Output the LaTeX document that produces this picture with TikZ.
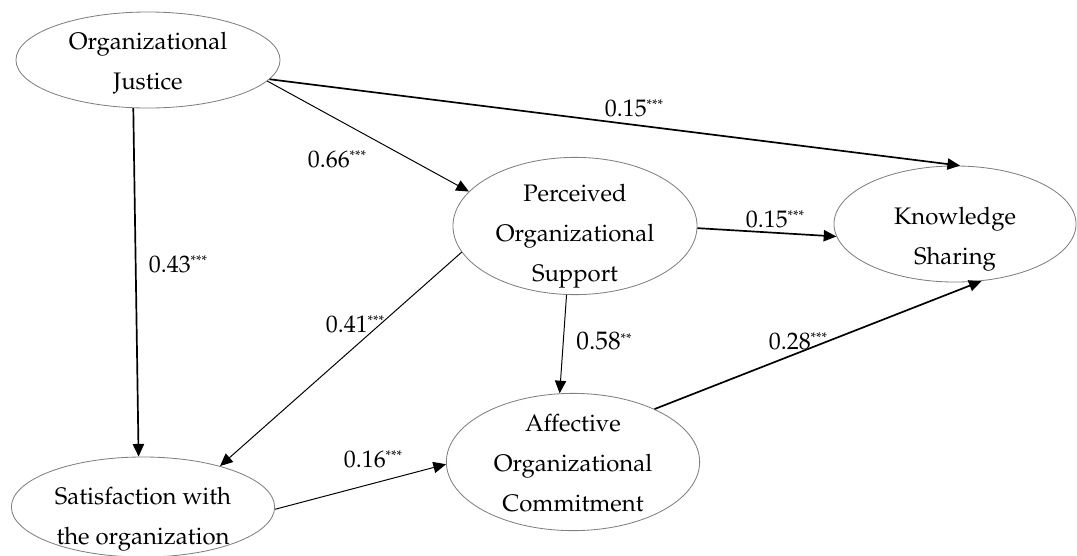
\documentclass[tikz,border=0pt]{standalone}
\usepackage[T1]{fontenc}
\usepackage{mathpazo}
\usetikzlibrary{
	arrows.meta,
	shapes.geometric
}
\tikzset{
  % construct
	cstellipse/.style ={ellipse,draw=black!50,line width=0.6pt,inner sep=0pt},
	csttext/.style    ={align=center,font=\fontsize{17}{28.4}\selectfont},
  % arrow
	cstra/.style      ={-{Triangle[length=9pt,width=8pt]},line width=0.7pt}, % thin path
	cstrab/.style     ={cstra,line width=1.2pt},                             % thick path
  % coefficient
	cstcoef/.style    ={inner sep=0pt,font=\fontsize{17}{20}\selectfont}
}
\newcommand{\pathcoef}[2]{#1\raisebox{4.5pt}{\fontsize{10}{10}\selectfont#2}}

\begin{document}
\begin{tikzpicture}[x=0.025cm,y=-0.025cm]
	\useasboundingbox (0,0) rectangle (1077,555);
	% constructs
	\node[cstellipse,minimum width=6.6cm,minimum height=2.4cm,
		label={[csttext,yshift=-2pt]center:Organizational\\Justice}] (oj) at (148,60) {};
	\node[cstellipse,minimum width=6.1cm,minimum height=3.43cm,
		label={[csttext,yshift=-7pt]center:Perceived\\Organizational\\Support}] (pos) at (575,226) {};
	\node[cstellipse,minimum width=6.05cm,minimum height=2.9cm,
		label={[csttext,yshift=-11pt]center:Knowledge\\Sharing}] (ks) at (955,224) {};
	\node[cstellipse,minimum width=6.33cm,minimum height=3.43cm,
		label={[csttext,yshift=-1pt]center:Affective\\Organizational\\Commitment}] (aoc) at (573,462) {};
	\node[cstellipse,minimum width=6.58cm,minimum height=2.5cm,
		label={[csttext,yshift=-9pt]center:Satisfaction with\\the organization}] (swo) at (143,507) {};
	% paths
	\draw[cstrab] (oj.-107) -- (swo.95);
	\draw[cstra]  (oj.-10) -- (pos.162);
	\draw[cstrab] (oj.-9) -- (ks.85);
	\draw[cstrab] (pos.-1) -- (ks.186);
	\draw[cstra]  (pos.-97) -- (aoc.101);
	\draw[cstra]  (pos.-167) -- (swo.28);
	\draw[cstra]  (swo.-1) -- (aoc.181);
	\draw[cstrab] (aoc.33) -- (ks.-65);
	% coefficients
	\node[cstcoef] (c1) at (634,108) {\pathcoef{0.15}{***}};
	\node[cstcoef] (c2) at (337,159) {\pathcoef{0.66}{***}};
	\node[cstcoef] (c3) at (178,264) {\pathcoef{0.43}{***}};
	\node[cstcoef] (c4) at (355,324) {\pathcoef{0.41}{***}};
	\node[cstcoef] (c5) at (775,219) {\pathcoef{0.15}{***}};
	\node[cstcoef,font=\fontsize{18}{20}\selectfont] (c6) at (604,341) {\pathcoef{0.58}{**}};
	\node[cstcoef] (c7) at (798,341) {\pathcoef{0.28}{***}};
	\node[cstcoef] (c8) at (373,459) {\pathcoef{0.16}{***}};
\end{tikzpicture}
\end{document}
